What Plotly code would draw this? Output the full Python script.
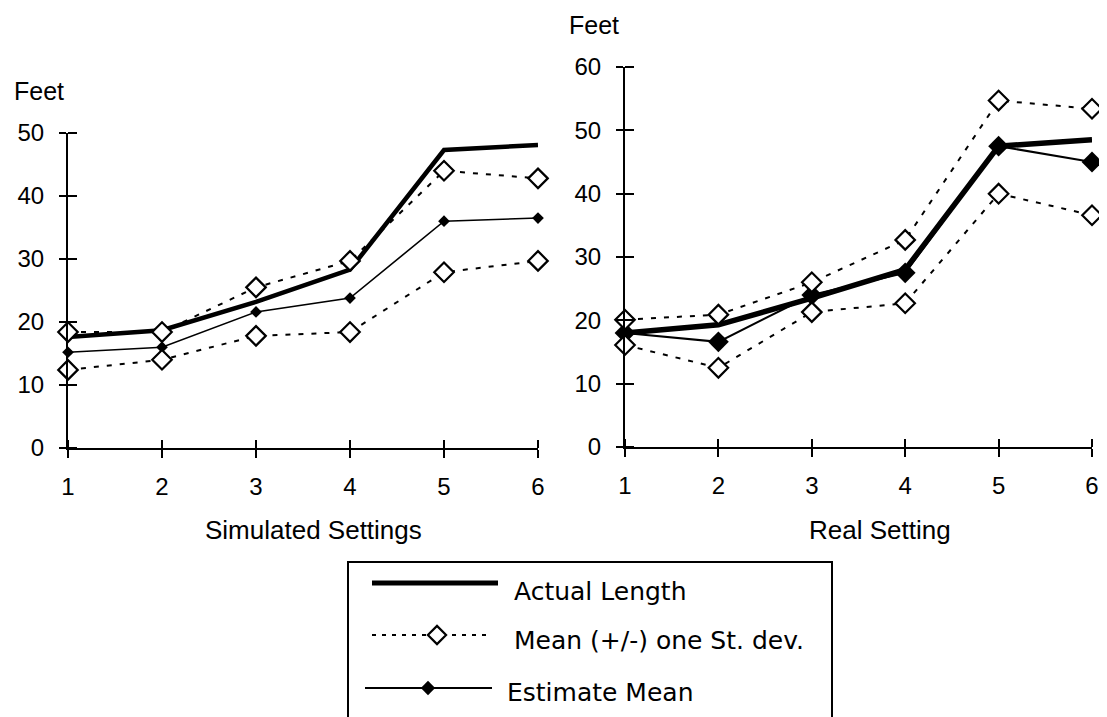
import plotly.graph_objects as go

W, H = 1107, 717
OFF = 8  # page body margin offset

settings = [1, 2, 3, 4, 5, 6]

sim_actual = [17.6, 18.7, 23.2, 28.3, 47.3, 48.1]
sim_upper = [18.4, 18.4, 25.5, 29.7, 44.0, 42.8]
sim_lower = [12.4, 14.0, 17.8, 18.4, 27.9, 29.7]
sim_estimate = [15.2, 16.0, 21.6, 23.8, 36.0, 36.5]

real_actual = [18.0, 19.3, 23.5, 28.0, 47.5, 48.5]
real_upper = [20.1, 20.9, 26.0, 32.7, 54.7, 53.4]
real_lower = [16.1, 12.5, 21.3, 22.7, 40.0, 36.6]
real_estimate = [18.0, 16.6, 24.0, 27.5, 47.5, 45.0]

left_yticks = [0, 10, 20, 30, 40, 50]
right_yticks = [0, 10, 20, 30, 40, 50, 60]

legend_labels = ["Actual Length", "Mean (+/-) one St. dev.", "Estimate Mean"]

AXFONT = "Liberation Sans, Arial, sans-serif"
LEGFONT = "DejaVu Sans, Verdana, sans-serif"


def px(x):
    return (x - OFF) / W


def py(y):
    return 1 - (y - OFF) / H


fig = go.Figure()

DASH = "5px,8px"


def add_panel(xa, ya, actual, upper, lower, est, est_size, est_width, act_width):
    fig.add_trace(go.Scatter(x=settings, y=actual, mode="lines", xaxis=xa, yaxis=ya,
                             line=dict(color="black", width=act_width), cliponaxis=False,
                             showlegend=False))
    fig.add_trace(go.Scatter(x=settings, y=est, mode="lines+markers", xaxis=xa, yaxis=ya,
                             line=dict(color="black", width=est_width),
                             marker=dict(symbol="diamond", size=est_size, color="black"),
                             cliponaxis=False, showlegend=False))
    for ser in (upper, lower):
        fig.add_trace(go.Scatter(x=settings, y=ser, mode="lines+markers", xaxis=xa, yaxis=ya,
                                 line=dict(color="black", width=2, dash=DASH),
                                 marker=dict(symbol="diamond", size=15, color="white",
                                             line=dict(color="black", width=2.2)),
                                 cliponaxis=False, showlegend=False))


add_panel("x", "y", sim_actual, sim_upper, sim_lower, sim_estimate, 9, 1.6, 4.5)
add_panel("x2", "y2", real_actual, real_upper, real_lower, real_estimate, 16, 2, 5.5)

common_x = dict(range=[1, 6], tickvals=settings, ticks="outside", ticklen=8, tickwidth=2,
                tickcolor="black", showline=True, linecolor="black", linewidth=2, automargin=False,
                showgrid=False, zeroline=False, tickfont=dict(family=AXFONT, size=24, color="black"),
                ticklabelstandoff=8,
                minor=dict(tickvals=settings, ticks="inside", ticklen=8, tickwidth=2, tickcolor="black",
                           showgrid=False))


def yaxis_cfg(rng, ticks, anchor, domain):
    return dict(range=rng, tickvals=ticks, ticks="outside", ticklen=7, tickwidth=2,
                tickcolor="black", showline=True, linecolor="black", linewidth=2, automargin=False,
                showgrid=False, zeroline=False, anchor=anchor, domain=domain,
                tickfont=dict(family=AXFONT, size=24, color="black"),
                ticklabelstandoff=10,
                minor=dict(tickvals=ticks, ticks="inside", ticklen=9, tickwidth=2, tickcolor="black",
                           showgrid=False))


fig.update_layout(
    width=W, height=H,
    margin=dict(l=0, r=0, t=0, b=0, autoexpand=False),
    paper_bgcolor="white", plot_bgcolor="rgba(0,0,0,0)",
    showlegend=False,
    xaxis=dict(domain=[px(68), px(538)], anchor="y", **common_x),
    yaxis=yaxis_cfg([0, 50], left_yticks, "x", [py(448), py(133)]),
    xaxis2=dict(domain=[px(625), px(1092)], anchor="y2", **common_x),
    yaxis2=yaxis_cfg([0, 60], right_yticks, "x2", [py(447), py(67)]),
    xaxis3=dict(domain=[px(348), px(832)], range=[348, 832], visible=False, anchor="y3"),
    yaxis3=dict(domain=[py(725), py(562)], range=[725, 562], visible=False, anchor="x3"),
)

# Legend samples (drawn in a hidden pixel-like axis)
fig.add_trace(go.Scatter(x=[372, 498], y=[583, 583], mode="lines", xaxis="x3", yaxis="y3",
                         line=dict(color="black", width=5), showlegend=False, cliponaxis=False))
fig.add_trace(go.Scatter(x=[372, 437, 492], y=[635, 635, 635], mode="lines", xaxis="x3", yaxis="y3",
                         line=dict(color="black", width=2, dash="4px,6px"), showlegend=False, cliponaxis=False))
fig.add_trace(go.Scatter(x=[437], y=[635], mode="markers", xaxis="x3", yaxis="y3",
                         marker=dict(symbol="diamond", size=14, color="white", line=dict(color="black", width=2.2)),
                         showlegend=False, cliponaxis=False))
fig.add_trace(go.Scatter(x=[365, 492], y=[688, 688], mode="lines", xaxis="x3", yaxis="y3",
                         line=dict(color="black", width=2), showlegend=False, cliponaxis=False))
fig.add_trace(go.Scatter(x=[428], y=[688], mode="markers", xaxis="x3", yaxis="y3",
                         marker=dict(symbol="diamond", size=11, color="black", line=dict(width=0)),
                         showlegend=False, cliponaxis=False))

fig.add_shape(type="rect", xref="paper", yref="paper", x0=px(348), x1=px(832), y0=py(730), y1=py(562),
              line=dict(color="black", width=2), fillcolor="rgba(0,0,0,0)", layer="below")

ann = []
ann.append(dict(text=legend_labels[0], x=px(512), y=py(591), xanchor="left", yanchor="middle",
                font=dict(family=LEGFONT, size=25, color="black")))
ann.append(dict(text=legend_labels[1], x=px(512), y=py(640), xanchor="left", yanchor="middle",
                font=dict(family=LEGFONT, size=25, color="black")))
ann.append(dict(text=legend_labels[2], x=px(505), y=py(692), xanchor="left", yanchor="middle",
                font=dict(family=LEGFONT, size=25, color="black")))
ann.append(dict(text="Feet", x=px(12), y=py(91), xanchor="left", yanchor="middle",
                font=dict(family=AXFONT, size=25, color="black")))
ann.append(dict(text="Feet", x=px(567), y=py(25), xanchor="left", yanchor="middle",
                font=dict(family=AXFONT, size=25, color="black")))
ann.append(dict(text="Simulated Settings", x=px(313), y=py(530), xanchor="center", yanchor="middle",
                font=dict(family=AXFONT, size=26, color="black")))
ann.append(dict(text="Real Setting", x=px(880), y=py(530), xanchor="center", yanchor="middle",
                font=dict(family=AXFONT, size=26, color="black")))
for a in ann:
    a.update(xref="paper", yref="paper", showarrow=False)
fig.update_layout(annotations=ann)

fig.write_html("out.html")
